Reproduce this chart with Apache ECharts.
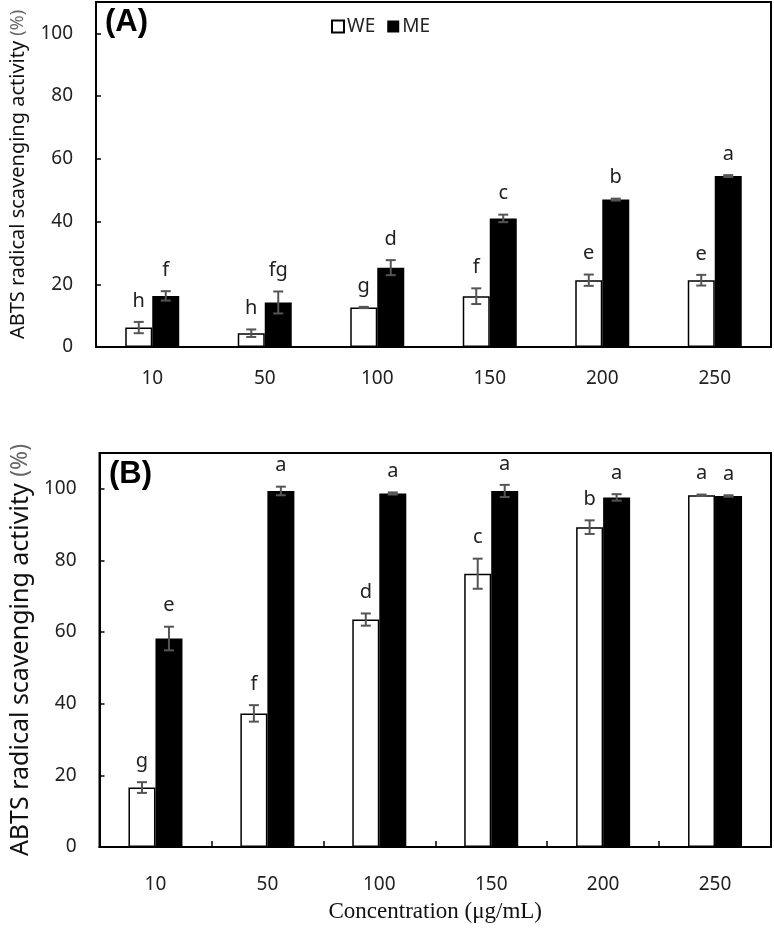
<!DOCTYPE html>
<html>
<head>
<meta charset="utf-8">
<script src="https://cdn.jsdelivr.net/npm/echarts@6/dist/echarts.min.js"></script>
<style>
html,body{margin:0;padding:0;background:#fff;}
#chart{width:774px;height:936px;}
</style>
</head>
<body>
<div id="chart"></div>
<script>
const categories = ['10', '50', '100', '150', '200', '250'];
// Panel A
const weA = [6.2, 4.4, 12.6, 16.2, 21.3, 21.3];
const weAErr = [1.8, 1.2, 0.2, 2.5, 1.8, 1.7];
const meA = [16.3, 14.2, 25.3, 41.0, 47.0, 54.5];
const meAErr = [1.5, 3.5, 2.4, 1.2, 0.3, 0.3];
const weALetters = ['h', 'h', 'g', 'f', 'e', 'e'];
const meALetters = ['f', 'fg', 'd', 'c', 'b', 'a'];
// Panel B
const weB = [16.6, 37.3, 63.5, 76.3, 89.3, 98.2];
const weBErr = [1.5, 2.3, 1.7, 4.2, 1.9, 0.2];
const meB = [58.2, 99.4, 98.7, 99.4, 97.6, 98.0];
const meBErr = [3.3, 1.2, 0.3, 1.7, 0.9, 0.2];
const weBLetters = ['g', 'f', 'd', 'c', 'b', 'a'];
const meBLetters = ['e', 'a', 'a', 'a', 'a', 'a'];

const FONT = "'Noto Sans', 'Noto Sans CJK KR', sans-serif";
const BAR_W = 27;

function errSeries(gridIdx, vals, errs, letters, offset) {
  return {
    type: 'custom',
    xAxisIndex: gridIdx,
    yAxisIndex: gridIdx,
    z: 10,
    silent: true,
    data: vals.map((v, i) => [i, v, errs[i]]),
    renderItem: function (params, api) {
      const idx = api.value(0), v = api.value(1), e = api.value(2);
      const top = api.coord([idx, v + e]);
      const bot = api.coord([idx, v - e]);
      const x = top[0] + offset;
      const cap = 5;
      const st = { stroke: '#555', lineWidth: 2 };
      return {
        type: 'group',
        children: [
          { type: 'line', shape: { x1: x, y1: top[1], x2: x, y2: bot[1] }, style: st },
          { type: 'line', shape: { x1: x - cap, y1: top[1], x2: x + cap, y2: top[1] }, style: st },
          { type: 'line', shape: { x1: x - cap, y1: bot[1], x2: x + cap, y2: bot[1] }, style: st },
          { type: 'text', style: { text: letters[params.dataIndex], x: x, y: top[1] - 21,
              align: 'center', verticalAlign: 'middle', fontSize: 20, fontFamily: FONT, fill: '#222' } }
        ]
      };
    }
  };
}

function barSeries(gridIdx, name, vals, isWE) {
  return {
    type: 'bar',
    name: name,
    xAxisIndex: gridIdx,
    yAxisIndex: gridIdx,
    barWidth: BAR_W,
    barGap: '0%',
    data: vals,
    itemStyle: isWE ? { color: '#fff', borderColor: '#000', borderWidth: 1.5 }
                    : { color: '#000', borderColor: '#000', borderWidth: 0 }
  };
}

function yAxis(gridIdx, nameSize, gap) {
  return {
    type: 'value',
    gridIndex: gridIdx,
    min: 0, max: 110, interval: 20,
    name: '{a|ABTS radical scavenging activity }{b|(%)}',
    nameLocation: 'middle',
    nameRotate: 90,
    nameGap: gap,
    nameTextStyle: {
      rich: {
        a: { fontSize: nameSize, fontFamily: FONT, color: '#111' },
        b: { fontSize: nameSize - 2, fontFamily: FONT, color: '#666' }
      }
    },
    axisLine: { show: true, lineStyle: { color: '#000', width: 2 } },
    axisTick: { show: true, inside: true, length: 5, lineStyle: { color: '#000', width: 1.5 } },
    axisLabel: { fontSize: 19, fontFamily: FONT, color: '#222', margin: 23, showMaxLabel: false,
      formatter: v => (v > 100 ? '' : String(v)) },
    splitLine: { show: false }
  };
}

const chart = echarts.init(document.getElementById('chart'), null, { renderer: 'canvas' });
chart.setOption({
  backgroundColor: '#fff',
  animation: false,
  title: [
    { text: '(A)', left: 100, top: 2, textStyle: { fontSize: 31, fontWeight: 'bold', fontFamily: 'Liberation Sans, Arial, sans-serif', color: '#000' } },
    { text: '(B)', left: 104, top: 454, textStyle: { fontSize: 31, fontWeight: 'bold', fontFamily: 'Liberation Sans, Arial, sans-serif', color: '#000' } }
  ],
  legend: {
    data: ['WE', 'ME'],
    left: 326, top: 12,
    itemWidth: 12, itemHeight: 12, itemGap: 12,
    icon: 'rect',
    textStyle: { fontSize: 19, fontFamily: FONT, color: '#222', padding: [0, 0, 0, -2] }
  },
  grid: [
    { left: 95, top: 2, right: 3, height: 345, show: true, borderColor: '#000', borderWidth: 2, backgroundColor: 'transparent' },
    { left: 95, top: 453, right: 3, height: 394, show: true, borderColor: '#000', borderWidth: 2, backgroundColor: 'transparent' }
  ],
  xAxis: [
    {
      type: 'category', gridIndex: 0, data: categories,
      axisLine: { lineStyle: { color: '#000', width: 2 } },
      axisTick: { show: false },
      axisLabel: { fontSize: 19, fontFamily: FONT, color: '#222', margin: 22 }
    },
    {
      type: 'category', gridIndex: 1, data: categories,
      name: 'Concentration (μg/mL)',
      nameLocation: 'middle', nameGap: 53,
      nameTextStyle: { fontSize: 23, fontFamily: "'Liberation Serif', 'Times New Roman', serif", color: '#111' },
      axisLine: { lineStyle: { color: '#000', width: 2 } },
      axisTick: { show: true, inside: true, length: 6, lineStyle: { color: '#000', width: 1.5 } },
      axisLabel: { fontSize: 19, fontFamily: FONT, color: '#222', margin: 28 }
    }
  ],
  yAxis: [yAxis(0, 20, 68), yAxis(1, 25, 64)],
  series: [
    barSeries(0, 'WE', weA, true),
    barSeries(0, 'ME', meA, false),
    errSeries(0, weA, weAErr, weALetters, -BAR_W / 2),
    errSeries(0, meA, meAErr, meALetters, BAR_W / 2),
    barSeries(1, 'WE', weB, true),
    barSeries(1, 'ME', meB, false),
    errSeries(1, weB, weBErr, weBLetters, -BAR_W / 2),
    errSeries(1, meB, meBErr, meBLetters, BAR_W / 2)
  ]
});
</script>
</body>
</html>
